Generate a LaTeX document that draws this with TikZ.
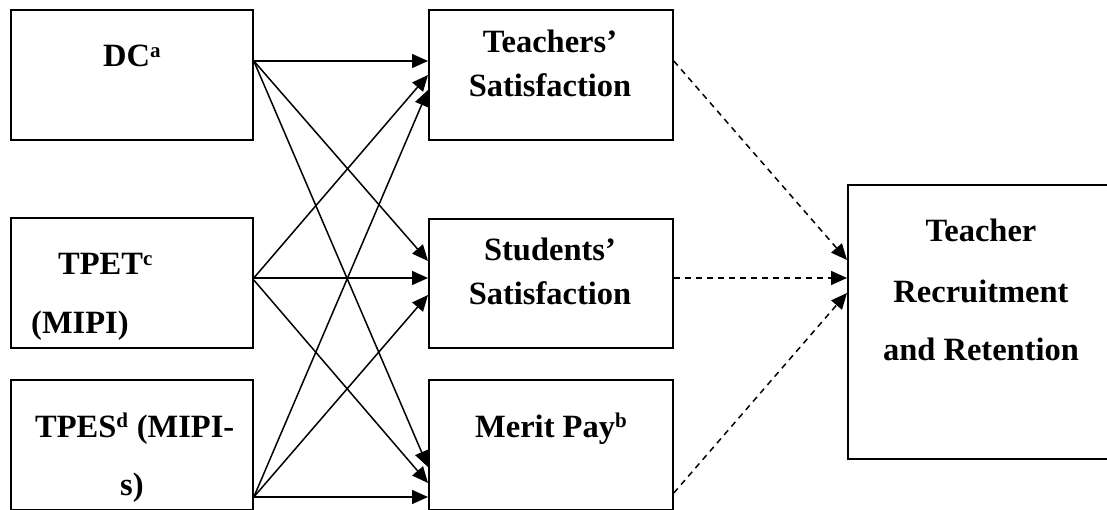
\documentclass[tikz,border=0pt]{standalone}
\usepackage{fontspec}
\setmainfont{Liberation Serif}
\usetikzlibrary{arrows.meta,calc}
\newcommand\mysup[1]{\textsuperscript{\fontsize{21}{21}\selectfont #1}}
\begin{document}
\begin{tikzpicture}[x=1pt,y=-1pt,
  box/.style={draw, line width=1.8pt, inner sep=0pt, anchor=north west},
  txt/.style={font=\fontsize{32.5}{38}\selectfont\bfseries, inner sep=0pt, anchor=base},
  txtw/.style={txt, anchor=base west},
  arr/.style={line width=1.5pt, -{Triangle[length=16pt,width=14pt]}},
  darr/.style={arr, dash pattern=on 6pt off 5pt}]
\useasboundingbox (0,0) rectangle (1107,510);
\clip (0,0) rectangle (1107,510);
% left boxes
\node[box, minimum width=242pt, minimum height=130pt] (dc) at (10,9) {};
\node[box, minimum width=242pt, minimum height=130pt] (tpet) at (10,217) {};
\node[box, minimum width=242pt, minimum height=130pt] (tpes) at (10,379) {};
% middle boxes
\node[box, minimum width=244pt, minimum height=130pt] (ts) at (428,9) {};
\node[box, minimum width=244pt, minimum height=129pt] (ss) at (428,218) {};
\node[box, minimum width=244pt, minimum height=130pt] (mp) at (428,379) {};
% right box
\node[box, minimum width=268pt, minimum height=274pt] (tr) at (847,184) {};
% texts
\node[txtw] (t1) at (103,67) {DC\mysup{a}};
\node[txtw] (t2) at (58,275) {TPET\mysup{c}};
\node[txtw] (t3) at (31,333) {(MIPI)};
\node[txtw] (t4) at (35,437) {TPES\mysup{d} (MIPI-};
\node[txtw] (t5) at (120,495) {s)};
\node[txt] (t6) at (550,53) {Teachers’};
\node[txt] (t7) at (550,97) {Satisfaction};
\node[txt] (t8) at (550,261) {Students’};
\node[txt] (t9) at (550,305) {Satisfaction};
\node[txtw] (t10) at (475,437) {Merit Pay\mysup{b}};
\node[txt] (t11) at (981,242) {Teacher};
\node[txt] (t12) at (981,302) {Recruitment};
\node[txt] (t13) at (981,360) {and Retention};
% solid arrows
\draw[arr] ($(dc.north east)+(0,52)$) -- ($(ts.north west)+(0,52)$);
\draw[arr] ($(dc.north east)+(0,52)$) -- ($(ss.north west)+(0,43)$);
\draw[arr] ($(dc.north east)+(0,52)$) -- ($(mp.north west)+(0,88)$);
\draw[arr] ($(tpet.north east)+(0,61)$) -- ($(ts.north west)+(0,66)$);
\draw[arr] ($(tpet.north east)+(0,61)$) -- ($(ss.north west)+(0,60)$);
\draw[arr] ($(tpet.north east)+(0,63)$) -- ($(mp.north west)+(0,104)$);
\draw[arr] ($(tpes.north east)+(0,118)$) -- ($(ts.north west)+(0,81)$);
\draw[arr] ($(tpes.north east)+(0,118)$) -- ($(ss.north west)+(0,77)$);
\draw[arr] ($(tpes.north east)+(0,118)$) -- ($(mp.north west)+(0,118)$);
% dashed arrows
\draw[darr] ($(ts.north east)+(0,52)$) -- ($(tr.north west)+(0,76)$);
\draw[darr] ($(ss.north east)+(0,60)$) -- ($(tr.north west)+(0,94)$);
\draw[darr] ($(mp.north east)+(0,114)$) -- ($(tr.north west)+(0,109)$);
\end{tikzpicture}
\end{document}
